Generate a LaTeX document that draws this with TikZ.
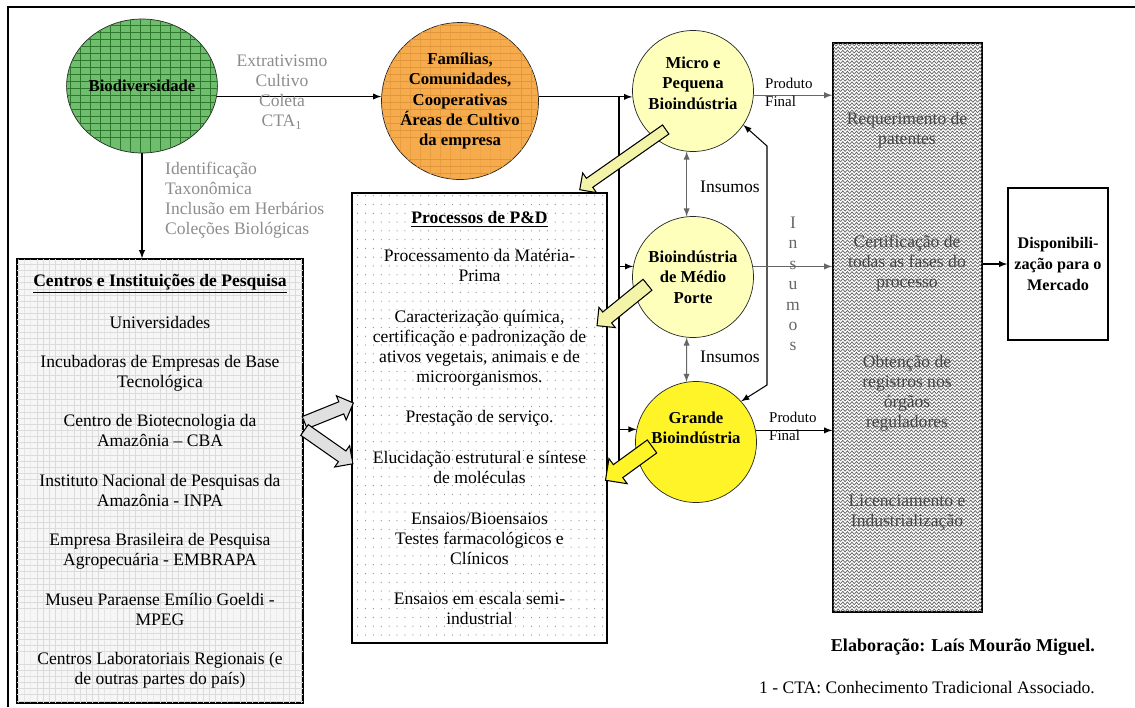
\documentclass[tikz,border=0pt]{standalone}
\usepackage{fontspec}
\setmainfont{Liberation Serif}
\usetikzlibrary{shapes,positioning,arrows,patterns,calc}

\definecolor{biogreen}{RGB}{110,190,110}
\definecolor{gridgreen}{RGB}{45,120,45}
\definecolor{famorange}{RGB}{246,172,76}
\definecolor{gridorange}{RGB}{226,150,60}
\definecolor{paleyellow}{RGB}{255,255,188}
\definecolor{strongyellow}{RGB}{255,244,40}
\definecolor{arrowyellow}{RGB}{244,244,168}
\definecolor{panelgray}{RGB}{246,246,246}

% fill textures
\pgfdeclarepatternformonly{cellgrid}{\pgfpoint{-0.1pt}{-0.1pt}}{\pgfpoint{5.8pt}{4.1pt}}{\pgfpoint{5.7pt}{4pt}}{%
  \pgfsetlinewidth{0.3pt}
  \pgfpathmoveto{\pgfpoint{0pt}{0pt}}\pgfpathlineto{\pgfpoint{5.7pt}{0pt}}
  \pgfpathmoveto{\pgfpoint{0pt}{0pt}}\pgfpathlineto{\pgfpoint{0pt}{4pt}}
  \pgfusepath{stroke}}
\pgfdeclarepatternformonly{finegrid}{\pgfpoint{-0.1pt}{-0.1pt}}{\pgfpoint{3.6pt}{3.6pt}}{\pgfpoint{3.5pt}{3.5pt}}{%
  \pgfsetlinewidth{0.3pt}
  \pgfpathmoveto{\pgfpoint{0pt}{0pt}}\pgfpathlineto{\pgfpoint{3.5pt}{0pt}}
  \pgfpathmoveto{\pgfpoint{0pt}{0pt}}\pgfpathlineto{\pgfpoint{0pt}{3.5pt}}
  \pgfusepath{stroke}}
\pgfdeclarepatternformonly{sparsedots}{\pgfpoint{-0.5pt}{-0.5pt}}{\pgfpoint{4.5pt}{5pt}}{\pgfpoint{4.5pt}{5pt}}{%
  \pgfpathcircle{\pgfpoint{1pt}{1pt}}{0.35pt}
  \pgfusepath{fill}}
\pgfdeclarepatternformonly{zigrows}{\pgfpoint{-0.2pt}{-0.2pt}}{\pgfpoint{2.8pt}{2.2pt}}{\pgfpoint{2.6pt}{2pt}}{%
  \pgfsetlinewidth{0.4pt}
  \pgfpathmoveto{\pgfpoint{0pt}{0.2pt}}\pgfpathlineto{\pgfpoint{1.3pt}{1.8pt}}\pgfpathlineto{\pgfpoint{2.6pt}{0.2pt}}
  \pgfusepath{stroke}}

\begin{document}
\begin{tikzpicture}[x=0.02cm, y=-0.02cm, >=latex,
    font=\fontsize{10}{11.4}\selectfont,
    bubble/.style={circle, draw=black!85, inner sep=0pt, align=center,
      font=\fontsize{9.5}{11.6}\selectfont\bfseries, minimum size=2.42cm},
    label/.style={align=center, font=\fontsize{9.5}{11.6}\selectfont\bfseries},
    panel/.style={draw, line width=0.9pt, align=center, inner sep=0pt},
    flow/.style={->, line width=0.6pt},
    twoway/.style={<->, line width=0.6pt},
    fat/.style={single arrow, draw, line width=0.6pt, inner xsep=0pt, anchor=center},
    note/.style={text=black!45},
    side/.style={font=\fontsize{8.5}{10.2}\selectfont, align=left, anchor=west}]
  \useasboundingbox (0,0) rectangle (1135,707);
  \draw[line width=0.9pt] (8,707) -- (8,7) -- (1135,7);

  % sources
  \node[ellipse, draw=black!85, inner sep=0pt, minimum width=2.84cm, minimum height=2.68cm,
    fill=biogreen, postaction={pattern=cellgrid, pattern color=gridgreen},
    font=\fontsize{9.5}{11.6}\selectfont\bfseries] (bio) at (142,86) {Biodiversidade};
  \node[bubble, minimum size=3.14cm, fill=famorange,
    postaction={pattern=cellgrid, pattern color=gridorange}] (fam) at (460,101)
    {Famílias,\\Comunidades,\\Cooperativas\\Áreas de Cultivo\\da empresa};

  \draw[flow] (bio.-8) -- (bio.-8 -| fam.west);
  \node[note, align=center] (ways) at (282,92) {Extrativismo\\Cultivo\\Coleta\\CTA\textsubscript{1}};

  % research centres
  \node[panel, minimum width=5.72cm, minimum height=8.88cm, fill=panelgray,
    postaction={pattern=finegrid, pattern color=black!14}] (centros) at (160,481)
    {\textbf{\underline{Centros e Instituições de Pesquisa}}\\[12.5pt]
     Universidades\\[11pt]
     Incubadoras de Empresas de Base\\Tecnológica\\[11pt]
     Centro de Biotecnologia da\\Amazônia – CBA\\[11pt]
     Instituto Nacional de Pesquisas da\\Amazônia - INPA\\[11pt]
     Empresa Brasileira de Pesquisa\\Agropecuária - EMBRAPA\\[11pt]
     Museu Paraense Emílio Goeldi -\\MPEG\\[11pt]
     Centros Laboratoriais Regionais (e\\de outras partes do país)};
  \draw[flow] (bio.south) -- (bio.south |- centros.north);
  \node[note, align=left, anchor=west] (ident) at (159,200)
    {Identificação\\Taxonômica\\Inclusão em Herbários\\Coleções Biológicas};

  % R&D processes
  \node[panel, minimum width=5.1cm, minimum height=9cm, fill=white,
    postaction={pattern=sparsedots, pattern color=black!45}] (pd) at (479.5,418)
    {\textbf{\underline{Processos de P\&D}}\\[10pt]
     Processamento da Matéria-\\Prima\\[12pt]
     Caracterização química,\\certificação e padronização de\\ativos vegetais, animais e de\\microorganismos.\\[11.5pt]
     Prestação de serviço.\\[12pt]
     Elucidação estrutural e síntese\\de moléculas\\[11.5pt]
     Ensaios/Bioensaios\\Testes farmacológicos e\\Clínicos\\[11.5pt]
     Ensaios em escala semi-\\industrial};

  % industries
  \node[bubble, fill=paleyellow] (micro) at (693,91) {};
  \node[label] (microtxt) at (693,83) {Micro e\\Pequena\\Bioindústria};
  \node[bubble, fill=paleyellow] (medio) at (693,277) {Bioindústria\\de Médio\\Porte};
  \node[bubble, fill=strongyellow] (grande) at (696,442) {};
  \node[label] (grandetxt) at (696,428) {Grande\\Bioindústria};

  \draw[flow] (fam.3) -- (fam.3 -| micro.west);
  \coordinate (split) at (619,97);
  \coordinate (splitend) at (619,463);
  \draw[line width=0.6pt] (split) -- (splitend);
  \draw[flow] (split |- medio.170) -- (medio.170);
  \draw[flow] (split |- grande.168) -- (grande.168);

  \draw[twoway, black!60] (micro.264) -- (medio.96);
  \draw[twoway, black!60] (medio.264) -- (grande.99);
  \node (ins1) at (730,187) {Insumos};
  \node (ins2) at (730,357) {Insumos};

  \coordinate (loopt) at (767,146);
  \coordinate (loopb) at (767,385);
  \draw[twoway] (micro.-34) -- (loopt) -- (loopb) -- (grande.42);
  \node[text=black!60, align=center, font=\fontsize{10}{11.6}\selectfont] (insv) at (793,284) {I\\n\\s\\u\\m\\o\\s};

  % hollow arrows
  \node[fat, fill=arrowyellow, minimum height=2.1cm, inner ysep=0.1cm,
    single arrow head extend=0.13cm, rotate=215] (fatmicro) at (625,158) {};
  \node[fat, fill=arrowyellow, minimum height=1.3cm, inner ysep=0.13cm,
    single arrow head extend=0.12cm, rotate=219] (fatmedio) at (625,303) {};
  \node[fat, fill=strongyellow, minimum height=1.15cm, inner ysep=0.15cm,
    single arrow head extend=0.15cm, rotate=216] (fatgrande) at (632,461) {};
  \node[fat, fill=black!12, minimum height=1.05cm, inner ysep=0.12cm,
    single arrow head extend=0.13cm, rotate=22] (fatup) at (326,414) {};
  \node[fat, fill=black!12, minimum height=1.18cm, inner ysep=0.12cm,
    single arrow head extend=0.13cm, rotate=-35] (fatdown) at (326,445) {};

  % regulatory steps
  \node[panel, minimum width=2.98cm, minimum height=11.38cm, fill=white,
    postaction={pattern=zigrows, pattern color=black!62}] (hatch) at (907.5,327.5) {};
  \node[text=black!72, align=center] (req) at (907,130) {Requerimento de\\patentes};
  \node[text=black!72, align=center] (cert) at (907,263) {Certificação de\\todas as fases do\\processo};
  \node[text=black!72, align=center] (obt) at (907,393) {Obtenção de\\registros nos\\órgãos\\reguladores};
  \node[text=black!72, align=center] (lic) at (907,513) {Licenciamento e\\Industrialização};

  \draw[flow, black!60] (micro.-4) -- (micro.-4 -| hatch.west);
  \node[side] (prod1) at (759,92) {Produto\\Final};
  \draw[flow, black!60] (medio.10) -- (medio.10 -| hatch.west);
  \draw[flow] (grande.11.5) -- (grande.11.5 -| hatch.west);
  \node[side] (prod2) at (763,426) {Produto\\Final};

  \node[panel, minimum width=2cm, minimum height=3.04cm,
    font=\fontsize{9.2}{12}\selectfont\bfseries] (market) at (1058,264)
    {Disponibili-\\zação para o\\Mercado};
  \draw[flow] (hatch.east |- market.west) -- (market.west);

  % credits
  \node[anchor=east, font=\fontsize{10.3}{12}\selectfont\bfseries] (autor) at (1101,647) {Elaboração: Laís Mourão Miguel.};
  \node[anchor=east] (nota) at (1101,688) {1 - CTA: Conhecimento Tradicional Associado.};
\end{tikzpicture}
\end{document}
